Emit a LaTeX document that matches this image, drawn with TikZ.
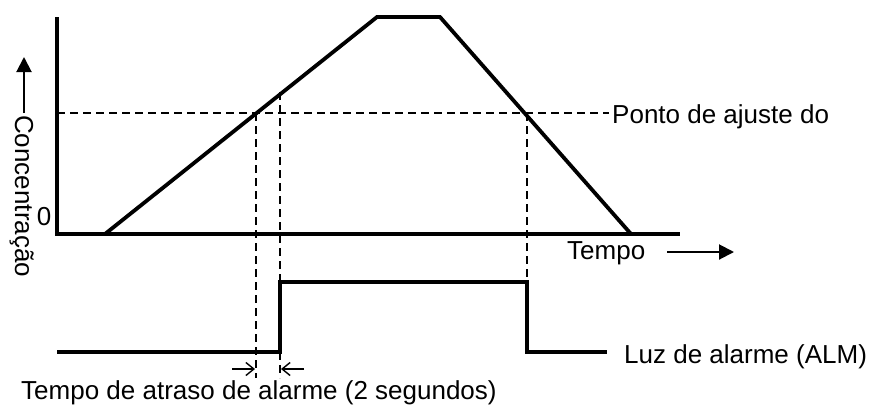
\documentclass[tikz,border=0pt]{standalone}
\usepackage{fontspec}
\setmainfont{Liberation Sans}
\usetikzlibrary{arrows.meta}
\begin{document}
\begin{tikzpicture}[x=1pt,y=-1pt,
  thickline/.style={line width=3.8pt, line join=miter},
  dashline/.style={line width=1.5pt, dash pattern=on 8pt off 5pt},
  lbl/.style={inner sep=0pt, font=\fontsize{26}{30}\selectfont},
  dimarrow/.style={line width=1.4pt, -{Straight Barb[length=8pt,width=13pt]}},
  bigarrow/.style={line width=2pt, -{Triangle[length=15pt,width=15pt]}}]
\useasboundingbox (0,0) rectangle (873,408);
% axes
\coordinate (Ytop) at (57,17);
\coordinate (O) at (57,234);
\coordinate (Xend) at (680,234);
\draw[thickline] (Ytop) -- (O) -- (Xend);
% concentration curve
\coordinate (c0) at (105,234);
\coordinate (c1) at (377,17);
\coordinate (c2) at (440,17);
\coordinate (c3) at (631,234);
\draw[thickline] (c0) -- (c1) -- (c2) -- (c3);
% set point line
\coordinate (sL) at (57,113);
\coordinate (sR) at (609,113);
\draw[dashline] (sL) -- (sR);
\node[lbl, anchor=base west] (setpt) at (612,123) {Ponto de ajuste do};
% intersections
\coordinate (p1) at (256,113);
\coordinate (p2) at (280,92);
\coordinate (p3) at (527,113);
% alarm signal
\coordinate (L0) at (57,352);
\coordinate (L1) at (280,352);
\coordinate (H1) at (280,282);
\coordinate (H2) at (527,282);
\coordinate (L2) at (527,352);
\coordinate (L3) at (607,352);
\draw[thickline] (L0) -- (L1) -- (H1) -- (H2) -- (L2) -- (L3);
\node[lbl, anchor=base west] (alm) at (624,363) {Luz de alarme (ALM)};
% dashed verticals
\coordinate (d1) at (256,378);
\coordinate (d2) at (280,378);
\draw[dashline] (p1) -- (d1);
\draw[dashline] (p2) -- (d2);
\draw[dashline] (p3) -- (H2);
% delay arrows
\coordinate (a1s) at (232,369);
\coordinate (a1e) at (255,369);
\coordinate (a2s) at (304,369);
\coordinate (a2e) at (281,369);
\draw[dimarrow] (a1s) -- (a1e);
\draw[dimarrow] (a2s) -- (a2e);
\node[lbl, anchor=base west] (delay) at (21,399) {Tempo de atraso de alarme (2 segundos)};
% labels
\node[lbl, anchor=base] (zero) at (44,225) {0};
\node[lbl, rotate=-90, anchor=base west] (conc) at (15,115) {Concentração};
\coordinate (ya0) at (24,113);
\coordinate (ya1) at (24,57);
\draw[bigarrow] (ya0) -- (ya1);
\node[lbl, anchor=base west] (tempo) at (567,259) {Tempo};
\coordinate (ta0) at (667,252);
\coordinate (ta1) at (734,252);
\draw[bigarrow] (ta0) -- (ta1);
\end{tikzpicture}
\end{document}
